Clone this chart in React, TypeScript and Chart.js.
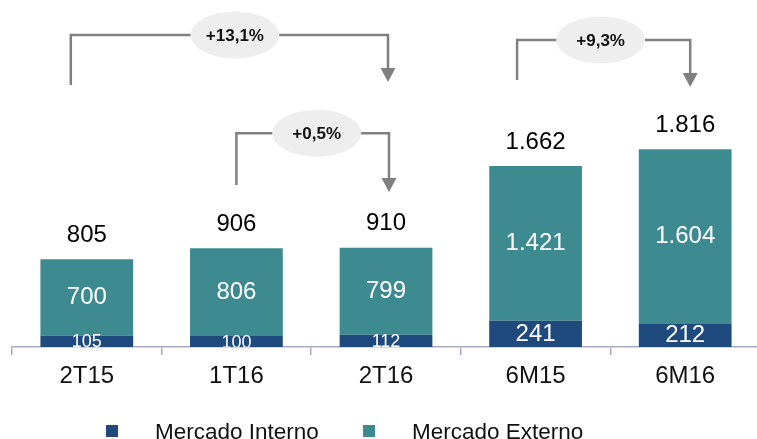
import { useEffect, useRef } from 'react';
import { Chart, registerables } from 'chart.js';

Chart.register(...registerables);

// Volumes por período (mil toneladas)
const categories = ['2T15', '1T16', '2T16', '6M15', '6M16'];
const seriesNames = ['Mercado Interno', 'Mercado Externo'];
const mercadoInterno = [105, 100, 112, 241, 212];
const mercadoExterno = [700, 806, 799, 1421, 1604];
const totals = [805, 906, 910, 1662, 1816];

// Variações entre períodos
const growthLabels = ['+13,1%', '+0,5%', '+9,3%'];
const growthFrom = [0, 1, 3];
const growthTo = [2, 2, 4];

const COLOR_INTERNO = '#1F4A7E';
const COLOR_EXTERNO = '#3D8B91';
const AXIS_COLOR = '#A7ADBC';
const BRACKET_COLOR = '#808080';
const PILL_COLOR = '#EEEEEE';
const FONT = "Arial, 'Liberation Sans', sans-serif";

// Geometry of the comparison brackets (levels in axis units, offsets in px)
const BRACKETS = [
  { leftDx: -16, rightDx: 2, level: 2865, leftEnd: 2406, tip: 2433, pillDx: 5.5 },
  { leftDx: 0, rightDx: 3, level: 1962, leftEnd: 1487, tip: 1423, pillDx: 4 },
  { leftDx: -18.5, rightDx: 5, level: 2819, leftEnd: 2452, tip: 2387, pillDx: -3 },
];

const fmt = (n: number) => String(n).replace(/\B(?=(\d{3})+(?!\d))/g, '.');

const valueLabels = {
  id: 'valueLabels',
  afterDatasetsDraw(chart: any) {
    const { ctx, chartArea } = chart;
    ctx.save();
    ctx.beginPath();
    ctx.rect(chartArea.left, chartArea.top, chartArea.right - chartArea.left, chartArea.bottom - chartArea.top);
    ctx.clip();
    ctx.textAlign = 'center';
    ctx.textBaseline = 'middle';
    ctx.fillStyle = '#FFFFFF';
    chart.data.datasets.forEach((ds: any, di: number) => {
      const meta = chart.getDatasetMeta(di);
      meta.data.forEach((bar: any, i: number) => {
        const { x, y, base } = bar.getProps(['x', 'y', 'base'], true);
        const h = Math.abs(base - y);
        const small = h < 20;
        ctx.font = `${small ? 18 : 24}px ${FONT}`;
        ctx.fillText(fmt(ds.data[i]), x, (y + base) / 2 + (small ? 1 : 0));
      });
    });
    ctx.restore();

    // totals above each stack
    const topMeta = chart.getDatasetMeta(chart.data.datasets.length - 1);
    ctx.save();
    ctx.textAlign = 'center';
    ctx.textBaseline = 'middle';
    ctx.fillStyle = '#000000';
    ctx.font = `24px ${FONT}`;
    topMeta.data.forEach((bar: any, i: number) => {
      ctx.fillText(fmt(totals[i]), bar.x, bar.y - 24);
    });
    ctx.restore();
  },
};

const growthBrackets = {
  id: 'growthBrackets',
  afterDraw(chart: any) {
    const { ctx } = chart;
    const xs = chart.scales.x;
    const ys = chart.scales.y;
    ctx.save();
    growthLabels.forEach((label, k) => {
      const b = BRACKETS[k];
      const xl = xs.getPixelForValue(growthFrom[k]) + b.leftDx;
      const xr = xs.getPixelForValue(growthTo[k]) + b.rightDx;
      const yTop = ys.getPixelForValue(b.level);
      const yLeft = ys.getPixelForValue(b.leftEnd);
      const yTip = ys.getPixelForValue(b.tip);
      const head = 14;

      ctx.strokeStyle = BRACKET_COLOR;
      ctx.lineWidth = 2.5;
      ctx.lineJoin = 'miter';
      ctx.beginPath();
      ctx.moveTo(xl, yLeft);
      ctx.lineTo(xl, yTop);
      ctx.lineTo(xr, yTop);
      ctx.lineTo(xr, yTip - head + 1);
      ctx.stroke();

      ctx.fillStyle = BRACKET_COLOR;
      ctx.beginPath();
      ctx.moveTo(xr - 7.5, yTip - head);
      ctx.lineTo(xr + 7.5, yTip - head);
      ctx.lineTo(xr, yTip);
      ctx.closePath();
      ctx.fill();

      const cx = (xl + xr) / 2 + b.pillDx;
      ctx.fillStyle = PILL_COLOR;
      ctx.beginPath();
      ctx.ellipse(cx, yTop, 44.5, 23.5, 0, 0, Math.PI * 2);
      ctx.fill();

      ctx.fillStyle = '#111111';
      ctx.font = `bold 17px ${FONT}`;
      ctx.textAlign = 'center';
      ctx.textBaseline = 'middle';
      ctx.fillText(label, cx, yTop + 1);
    });
    ctx.restore();
  },
};

const bottomLegend = {
  id: 'bottomLegend',
  afterDraw(chart: any) {
    const { ctx } = chart;
    const items = [
      { box: 106, text: 155 },
      { box: 363, text: 412 },
    ];
    ctx.save();
    ctx.font = `22.5px ${FONT}`;
    ctx.textAlign = 'left';
    ctx.textBaseline = 'alphabetic';
    chart.data.datasets.forEach((ds: any, i: number) => {
      const it = items[i];
      ctx.fillStyle = ds.backgroundColor;
      ctx.fillRect(it.box, 425, 12, 12);
      ctx.fillStyle = '#111111';
      ctx.fillText(ds.label, it.text, 439);
    });
    ctx.restore();
  },
};

export default function App() {
  const canvasRef = useRef<HTMLCanvasElement | null>(null);

  useEffect(() => {
    const canvas = canvasRef.current;
    if (!canvas) return;
    const chart = new Chart(canvas, {
      type: 'bar',
      data: {
        labels: categories,
        datasets: [
          {
            label: seriesNames[0],
            data: mercadoInterno,
            backgroundColor: COLOR_INTERNO,
            borderWidth: 0,
          },
          {
            label: seriesNames[1],
            data: mercadoExterno,
            backgroundColor: COLOR_EXTERNO,
            borderWidth: 0,
          },
        ],
      },
      options: {
        responsive: false,
        animation: false,
        devicePixelRatio: 1,
        layout: { padding: { left: 12, right: 2, top: 0, bottom: 0 } },
        datasets: {
          bar: { categoryPercentage: 1, barPercentage: 0.62 },
        },
        plugins: {
          legend: { display: false },
          tooltip: { enabled: false },
        },
        scales: {
          x: {
            stacked: true,
            offset: true,
            grid: {
              display: true,
              drawOnChartArea: false,
              drawTicks: true,
              tickLength: 8,
              offset: true,
              color: AXIS_COLOR,
              lineWidth: 1.5,
            },
            border: { display: true, color: AXIS_COLOR, width: 1.5 },
            ticks: {
              color: '#111111',
              font: { size: 24, family: FONT },
              padding: 7,
              maxRotation: 0,
            },
            afterFit: (scale: any) => {
              scale.height = 92;
            },
          },
          y: {
            stacked: true,
            display: false,
            min: 0,
            max: 3186,
          },
        },
      },
      plugins: [valueLabels, growthBrackets, bottomLegend],
    });
    return () => chart.destroy();
  }, []);

  return (
    <div
      style={{
        position: 'absolute',
        left: 0,
        top: 0,
        width: 757,
        height: 439,
        overflow: 'hidden',
        background: '#FFFFFF',
      }}
    >
      <canvas ref={canvasRef} width={762} height={439} style={{ display: 'block' }} />
    </div>
  );
}
